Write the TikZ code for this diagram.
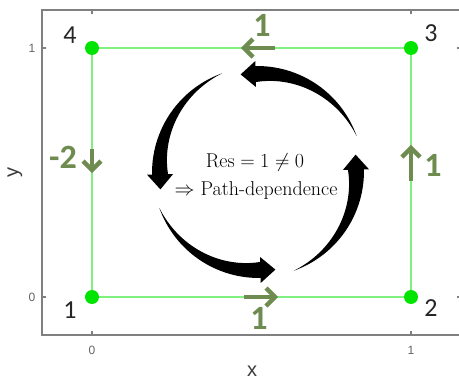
\documentclass[tikz,border=0pt]{standalone}
\usepackage{fix-cm}
\usepackage{fontspec}
\newfontfamily\carl{Carlito}
\newfontfamily\libsans{Liberation Sans}
\definecolor{axgray}{RGB}{128,128,128}
\definecolor{tickgray}{RGB}{100,100,100}
\definecolor{labgray}{RGB}{60,60,60}
\definecolor{numdark}{RGB}{38,38,38}
\definecolor{lightgreen}{RGB}{128,240,128}
\definecolor{dotgreen}{RGB}{0,228,0}
\definecolor{olivegreen}{RGB}{110,140,80}
\begin{document}
\begin{tikzpicture}[x=1pt,y=-1pt,
  axisline/.style={draw=axgray,line width=1.2pt},
  ticklab/.style={text=tickgray,font=\libsans\fontsize{12}{14}\selectfont,inner sep=0pt},
  axislab/.style={text=labgray,font=\libsans\fontsize{20}{24}\selectfont,inner sep=0pt},
  cornerlab/.style={text=numdark,font=\carl\fontsize{26}{30}\selectfont,inner sep=0pt},
  edgelab/.style={text=olivegreen,font=\carl\bfseries\fontsize{34}{38}\selectfont,inner sep=0pt},
  greenline/.style={draw=lightgreen,line width=2.4pt},
  cornerdot/.style={circle,fill=dotgreen,inner sep=0pt,minimum size=14pt},
  olivearr/.style={draw=olivegreen,line width=4.5pt,line cap=butt,line join=miter},
  restext/.style={font=\fontsize{20}{28}\selectfont,inner sep=0pt,anchor=base}
]
\useasboundingbox (0,0) rectangle (459,383);
\fill[white] (0,0) rectangle (459,383);
\clip (0,0) rectangle (459,383);

% axes box and ticks
\draw[axisline] (42,10) rectangle (461,335);
\foreach \tx in {92,411} {
  \draw[axisline] (\tx,335) -- (\tx,331);
  \draw[axisline] (\tx,10) -- (\tx,14);
}
\foreach \ty in {48,297} {
  \draw[axisline] (42,\ty) -- (46,\ty);
  \draw[axisline] (461,\ty) -- (457,\ty);
}
\node[ticklab] (tx0) at (92,350) {0};
\node[ticklab] (tx1) at (411,350) {1};
\node[ticklab] (ty0) at (32,297) {0};
\node[ticklab] (ty1) at (32,48) {1};
\node[axislab] (xlab) at (252,371) {x};
\node[axislab,rotate=90] (ylab) at (15,172) {y};

% green square
\coordinate (p1) at (92,297);
\coordinate (p2) at (411,297);
\coordinate (p3) at (411,48);
\coordinate (p4) at (92,48);
\draw[greenline] (p1) -- (p2) -- (p3) -- (p4) -- cycle;
\node[cornerdot] (d1) at (p1) {};
\node[cornerdot] (d2) at (p2) {};
\node[cornerdot] (d3) at (p3) {};
\node[cornerdot] (d4) at (p4) {};

% corner labels
\node[cornerlab] (n4) at (70,35) {4};
\node[cornerlab] (n3) at (431,33) {3};
\node[cornerlab] (n1) at (70,310) {1};
\node[cornerlab] (n2) at (431,308) {2};

% olive edge arrows
\draw[olivearr] (244,297) -- (275,297);
\draw[olivearr] (266,288) -- (275,297) -- (266,306);
\draw[olivearr] (275,48) -- (244,48);
\draw[olivearr] (253,39) -- (244,48) -- (253,57);
\draw[olivearr] (411,181) -- (411,148);
\draw[olivearr] (402,157) -- (411,148) -- (420,157);
\draw[olivearr] (92,149) -- (92,170);
\draw[olivearr] (83,161) -- (92,170) -- (101,161);

\node[edgelab] (e1) at (259,318) {1};
\node[edgelab] (e2) at (433,165) {1};
\node[edgelab] (e3) at (262,25) {1};
\node[edgelab] (e4) at (63,157) {-2};

% curved black arrows
\begin{scope}[shift={(258,172)},yscale=-1]
\foreach \a in {20,110,200,290} {
  \pgfmathsetmacro\b{\a+71.4}
  \pgfmathsetmacro\tipx{98*cos(\b)-15*sin(\b)}
  \pgfmathsetmacro\tipy{98*sin(\b)+15*cos(\b)}
  \fill[black] plot[domain=\a:\b,samples=40] (\x:{105+1*(\x-\a)/71.4})
    -- (\b:111) -- (\tipx,\tipy) -- (\b:85)
    -- plot[domain=\b:\a,samples=40] (\x:{105-15*(\x-\a)/71.4}) -- cycle;
}
\end{scope}

% central text
\node[restext] (res) at (255,167) {$\mathrm{Res}=1\neq 0$};
\node[restext] (path) at (256,195) {$\Rightarrow$ Path-dependence};
\end{tikzpicture}
\end{document}
